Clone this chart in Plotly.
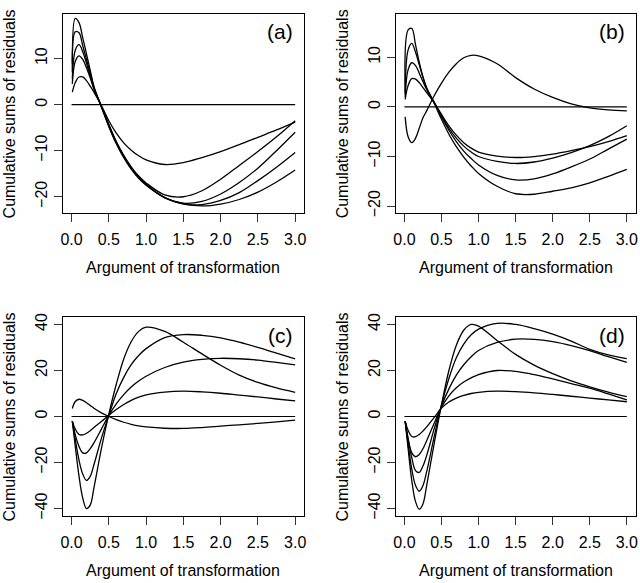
import plotly.graph_objects as go

# ---------------- data ----------------
x_grid = [0.01, 0.05, 0.1, 0.15, 0.2, 0.25, 0.3, 0.4, 0.5, 0.6, 0.7, 0.8, 0.9,
          1.0, 1.25, 1.5, 1.75, 2.0, 2.25, 2.5, 2.75, 3.0]

# panel (a)
a_curve1 = [9, 18.7, 17.8, 14.5, 11, 7.5, 4, -0.5, -4.8, -8.5, -11.5, -14, -16, -17.5,
            -20.2, -21.5, -22, -21.6, -20.6, -19, -16.8, -14.2]
a_curve2 = [7, 15.8, 15.6, 12.8, 9.8, 6.8, 3.7, -0.5, -4.6, -8.3, -11.3, -13.8, -15.8, -17.4,
            -20.2, -21.6, -21.7, -20.8, -19.1, -16.5, -13.6, -10.4]
a_curve3 = [5.5, 11.8, 13, 11.5, 9, 6.2, 3.5, -0.3, -4.4, -8.1, -11.2, -13.7, -15.7, -17.3,
            -20.2, -21.4, -21, -19.4, -16.9, -13.8, -10, -6]
a_curve4 = [4.5, 9.4, 10.6, 9.8, 8, 5.8, 3.4, -0.3, -4.3, -8, -11, -13.5, -15.5, -17,
            -19.6, -20, -18.7, -16.2, -13.2, -10.2, -7, -3.5]
a_curve5 = [2.7, 4.8, 6, 6, 5.2, 4, 2.7, -0.2, -3.5, -6.2, -8.3, -9.9, -11.1, -12,
            -13, -12.6, -11.5, -10.2, -8.7, -7.1, -5.5, -3.8]

# panel (b)
b_curve1 = [3, 15.5, 15.8, 12.5, 9, 6, 3.8, 0.8, -2.5, -5.5, -8, -10.1, -11.9, -13.4,
            -16, -17.5, -17.6, -17, -16.3, -15.3, -14, -12.6]
b_curve2 = [2.5, 11.5, 12.8, 11, 8.5, 6, 3.8, 1, -2, -4.7, -7, -8.9, -10.4, -11.7,
            -13.8, -14.7, -14.5, -13.5, -12.1, -10.5, -8.5, -6.5]
b_curve3 = [2, 7.5, 8.9, 8.3, 6.8, 5.1, 3.5, 0.9, -1.8, -4.3, -6.3, -7.9, -9.1, -10,
            -11, -11.4, -11.1, -10.3, -9.2, -7.8, -6, -3.8]
b_curve4 = [1.5, 4.3, 5.7, 5.6, 4.9, 3.9, 2.9, 0.9, -1.5, -3.8, -5.7, -7.2, -8.3, -9.1,
            -9.9, -10.2, -10, -9.5, -8.8, -8, -7, -5.8]
b_curve5 = [-2, -6, -7.2, -6.3, -4.3, -2.2, -0.8, 2.2, 4.8, 7, 8.7, 9.9, 10.4, 10.3,
            8.7, 5.9, 3.6, 1.9, 0.6, -0.2, -0.6, -0.8]

# panel (c)
c_curve1 = [3.5, 6.5, 7.5, 7, 6, 4.8, 3.6, 1.6, 0, -1.4, -2.5, -3.4, -4.1, -4.5,
            -5.1, -5.2, -4.8, -4.2, -3.6, -3, -2.3, -1.6]
c_curve2 = [-2, -5.5, -7.8, -8, -7.3, -6.2, -4.8, -2.2, 0.5, 3, 5.2, 7, 8.4, 9.4,
            10.6, 11, 10.7, 10.1, 9.3, 8.5, 7.6, 6.8]
c_curve3 = [-2, -8, -13, -15.8, -15.8, -14, -11.5, -5.5, 0.5, 5.5, 9.5, 12.8, 15.4, 17.5,
            21.3, 23.6, 24.8, 25.3, 25.1, 24.5, 23.5, 22.4]
c_curve4 = [-2, -10, -19, -25, -27.8, -26, -21, -9.5, 0.5, 10, 17, 22.5, 26.5, 29.5,
            34.3, 35.6, 35.3, 34.2, 32.3, 30, 27.5, 25]
c_curve5 = [-2, -13, -26, -35.5, -40, -38.5, -31, -14, 1, 14, 25, 32.5, 37, 38.8,
            37, 32.3, 27.2, 22.3, 18, 14.8, 12.4, 10.5]

# panel (d)
d_curve1 = [-2, -6, -8.7, -8.8, -7.8, -6.3, -4.5, -0.5, 3.7, 6.3, 8, 9.2, 10, 10.5,
            11, 10.8, 10.3, 9.6, 8.8, 8, 7.2, 6.4]
d_curve2 = [-2, -10, -15.8, -17.5, -16.5, -14, -10.5, -3, 4, 9, 12.5, 15, 16.8, 18.2,
            20, 19.6, 18.2, 16.3, 14.3, 12.3, 9.8, 7.2]
d_curve3 = [-2, -9.5, -18, -23.5, -24.3, -21.5, -17, -5.5, 4.5, 12, 18, 22.5, 26, 28.7,
            32.2, 33.6, 33.5, 32.5, 30.8, 28.6, 26, 23.5]
d_curve4 = [-2, -12, -23, -30, -32.5, -30, -24, -9, 5, 16.5, 25.5, 31.5, 35.5, 38,
            40.5, 40, 38.2, 35.8, 32.8, 29.2, 26.8, 25.2]
d_curve5 = [-2, -14, -28, -37, -40.3, -38, -30, -12, 5, 20, 31, 37.5, 40, 39.3,
            33, 27, 22.3, 18.6, 15.5, 12.9, 10.6, 8.6]

ref_x = [0.0, 3.0]
ref_y = [0.0, 0.0]

x_ticks = [0.0, 0.5, 1.0, 1.5, 2.0, 2.5, 3.0]
y_ticks_top = [-20, -10, 0, 10]
y_ticks_bottom = [-40, -20, 0, 20, 40]

panel_labels = ["(a)", "(b)", "(c)", "(d)"]
x_title = "Argument of transformation"
y_title = "Cumulative sums of residuals"

panels = [
    [a_curve1, a_curve2, a_curve3, a_curve4, a_curve5],
    [b_curve1, b_curve2, b_curve3, b_curve4, b_curve5],
    [c_curve1, c_curve2, c_curve3, c_curve4, c_curve5],
    [d_curve1, d_curve2, d_curve3, d_curve4, d_curve5],
]

# ---------------- figure ----------------
W, H = 640, 583
FONT = "Liberation Sans, Arial, Helvetica, sans-serif"

# box pixel geometry: (left, right, top, bottom)
boxes = [(61, 304, 10, 212), (396, 637.7, 10, 212),
         (61, 304, 317.7, 519), (396, 637.7, 317.7, 519)]
y_ranges = [[-23.55, 19.7], [-21.4, 18.75], [-43.2, 43.1], [-43.2, 43.1]]
y_tickvals = [y_ticks_top, y_ticks_top, y_ticks_bottom, y_ticks_bottom]

fig = go.Figure()
layout = {}
annotations = []

for i, curves in enumerate(panels):
    n = "" if i == 0 else str(i + 1)
    xa, ya = "x" + n, "y" + n
    for c in curves:
        fig.add_trace(go.Scatter(x=x_grid, y=c, mode="lines", xaxis=xa, yaxis=ya,
                                 line=dict(color="black", width=1.3, shape="spline",
                                           smoothing=1.0),
                                 showlegend=False, hoverinfo="skip"))
    fig.add_trace(go.Scatter(x=ref_x, y=ref_y, mode="lines", xaxis=xa, yaxis=ya,
                             line=dict(color="black", width=1.1),
                             showlegend=False, hoverinfo="skip"))
    l, r, t, b = boxes[i]
    common = dict(showline=True, mirror=True, linecolor="black", linewidth=1,
                  ticks="outside", ticklen=8, tickwidth=1, tickcolor="#333",
                  showgrid=False, zeroline=False,
                  tickfont=dict(family=FONT, size=16, color="black"))
    layout["xaxis" + n] = dict(domain=[l / W, r / W], range=[-0.12, 3.12],
                               tickvals=x_ticks, tickformat=".1f",
                               anchor=ya, ticklabelstandoff=4, **common)
    layout["yaxis" + n] = dict(domain=[1 - b / H, 1 - t / H], range=y_ranges[i],
                               tickvals=y_tickvals[i], tickangle=-90,
                               anchor=xa, **common)
    # axis titles
    annotations.append(dict(text=x_title, xref="paper", yref="paper",
                            x=(l + r) / 2 / W, y=1 - (b + 55) / H,
                            xanchor="center", yanchor="middle", showarrow=False,
                            font=dict(family=FONT, size=16, color="black")))
    annotations.append(dict(text=y_title, xref="paper", yref="paper",
                            x=(l - 53) / W, y=1 - (t + b) / 2 / H, textangle=-90,
                            xanchor="center", yanchor="middle", showarrow=False,
                            font=dict(family=FONT, size=16, color="black")))
    annotations.append(dict(text=panel_labels[i], xref="paper", yref="paper",
                            x=(r - 24) / W, y=1 - (t + 18) / H,
                            xanchor="center", yanchor="middle", showarrow=False,
                            font=dict(family=FONT, size=21, color="black")))

fig.update_layout(width=W, height=H, margin=dict(l=0, r=0, t=0, b=0),
                  paper_bgcolor="white", plot_bgcolor="white",
                  annotations=annotations, **layout)

fig.write_html("out.html", config={"displayModeBar": False},
               post_script="document.body.style.margin='0';"
                           "document.body.style.overflow='hidden';")
